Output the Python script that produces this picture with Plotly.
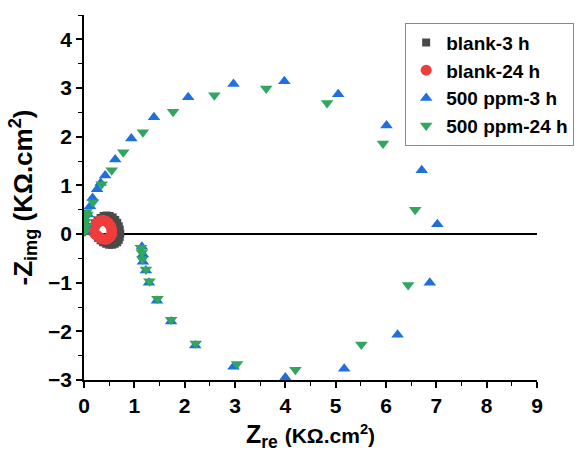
import plotly.graph_objects as go

# blank-3 h
b3_x = [0.14, 0.17, 0.22, 0.27, 0.33, 0.39, 0.45, 0.51, 0.57, 0.62, 0.66, 0.69, 0.71, 0.72, 0.71, 0.69, 0.66, 0.61, 0.56, 0.50, 0.44, 0.38, 0.33, 0.28, 0.24]
b3_y = [0.06, 0.14, 0.22, 0.28, 0.33, 0.37, 0.38, 0.37, 0.34, 0.29, 0.23, 0.16, 0.09, 0.01, -0.06, -0.12, -0.17, -0.20, -0.22, -0.22, -0.20, -0.17, -0.13, -0.08, -0.02]
# blank-24 h
b24_x = [0.19, 0.20, 0.23, 0.27, 0.32, 0.38, 0.44, 0.49, 0.53, 0.55, 0.55, 0.52, 0.47, 0.42, 0.36, 0.31, 0.26, 0.22]
b24_y = [0.04, 0.12, 0.19, 0.24, 0.27, 0.28, 0.26, 0.22, 0.16, 0.08, 0.00, -0.06, -0.10, -0.11, -0.10, -0.07, -0.03, 0.00]
# 500 ppm-3 h
p3_x = [0.02, 0.04, 0.08, 0.12, 0.17, 0.26, 0.33, 0.42, 0.62, 0.94, 1.39, 2.07, 2.97, 3.98, 5.05, 6.01, 6.71, 7.02,
        6.87, 6.23, 5.17, 4.00, 2.97, 2.21, 1.73, 1.45, 1.29, 1.23, 1.17, 1.17, 1.15]
p3_y = [0.05, 0.20, 0.40, 0.57, 0.74, 0.92, 1.05, 1.20, 1.53, 1.96, 2.40, 2.81, 3.08, 3.14, 2.87, 2.23, 1.31, 0.20,
        -1.00, -2.07, -2.77, -2.95, -2.73, -2.29, -1.80, -1.37, -1.00, -0.75, -0.57, -0.42, -0.26]
# 500 ppm-24 h
p24_x = [0.02, 0.03, 0.03, 0.04, 0.05, 0.07, 0.18, 0.35, 0.55, 0.78, 1.17, 1.77, 2.59, 3.62, 4.83, 5.94, 6.58,
         6.44, 5.51, 4.20, 3.04, 2.22, 1.73, 1.46, 1.30, 1.23, 1.16, 1.15, 1.13]
p24_y = [0.05, 0.15, 0.25, 0.35, 0.45, 0.40, 0.65, 1.02, 1.31, 1.68, 2.09, 2.51, 2.85, 2.99, 2.69, 1.86, 0.50,
         -1.05, -2.27, -2.79, -2.67, -2.25, -1.76, -1.33, -0.97, -0.73, -0.52, -0.38, -0.28]

fig = go.Figure()
fig.add_trace(go.Scatter(x=b3_x, y=b3_y, mode="markers", name="blank-3 h",
                         marker=dict(symbol="square", size=8, color="#4a4a4a")))
fig.add_trace(go.Scatter(x=b24_x, y=b24_y, mode="markers", name="blank-24 h",
                         marker=dict(symbol="circle", size=11, color="#f03c3c")))
fig.add_trace(go.Scatter(x=p3_x, y=p3_y, mode="markers", name="500 ppm-3 h",
                         marker=dict(symbol="triangle-up", size=11, color="#1f6fde")))
fig.add_trace(go.Scatter(x=p24_x, y=p24_y, mode="markers", name="500 ppm-24 h",
                         marker=dict(symbol="triangle-down", size=11, color="#30a65e")))

font_fam = "Liberation Sans, Arial, sans-serif"
fig.update_layout(
    width=583, height=452,
    margin=dict(l=84, r=46, t=15, b=72, autoexpand=False),
    paper_bgcolor="white", plot_bgcolor="white",
    font=dict(family=font_fam, color="black"),
    showlegend=True,
    legend=dict(x=0.709, y=0.979, xanchor="left", yanchor="top",
                bordercolor="#888888", borderwidth=1, bgcolor="white",
                font=dict(size=19, family=font_fam, color="black", weight="bold"),
                tracegroupgap=0),
    xaxis=dict(range=[0, 9], tickvals=[0, 1, 2, 3, 4, 5, 6, 7, 8, 9], automargin=False,
               showline=True, linecolor="black", linewidth=1.5, mirror=False,
               ticks="outside", ticklen=6, tickwidth=1.5, tickcolor="black",
               minor=dict(ticks="outside", ticklen=4, tickwidth=1.2, tickcolor="black", dtick=0.5),
               showgrid=False, zeroline=False,
               tickfont=dict(size=21, family=font_fam, weight="bold"),
               title=dict(text="Z<sub>re</sub> <span style='font-size:21px'>(KΩ.cm<sup>2</sup>)</span>",
                          font=dict(size=25, family=font_fam, weight="bold"), standoff=14)),
    yaxis=dict(range=[-3, 4.5], tickvals=[-3, -2, -1, 0, 1, 2, 3, 4], automargin=False,
               showline=True, linecolor="black", linewidth=1.5, mirror=False,
               ticks="outside", ticklen=6, tickwidth=1.5, tickcolor="black",
               minor=dict(ticks="outside", ticklen=4, tickwidth=1.2, tickcolor="black", dtick=0.5),
               showgrid=False, zeroline=True, zerolinecolor="black", zerolinewidth=2,
               tickfont=dict(size=21, family=font_fam, weight="bold"),
               title=dict(text="-Z<sub>img</sub> (KΩ.cm<sup>2</sup>)",
                          font=dict(size=26, family=font_fam, weight="bold"), standoff=8)),
)

fig.write_html("out.html")
